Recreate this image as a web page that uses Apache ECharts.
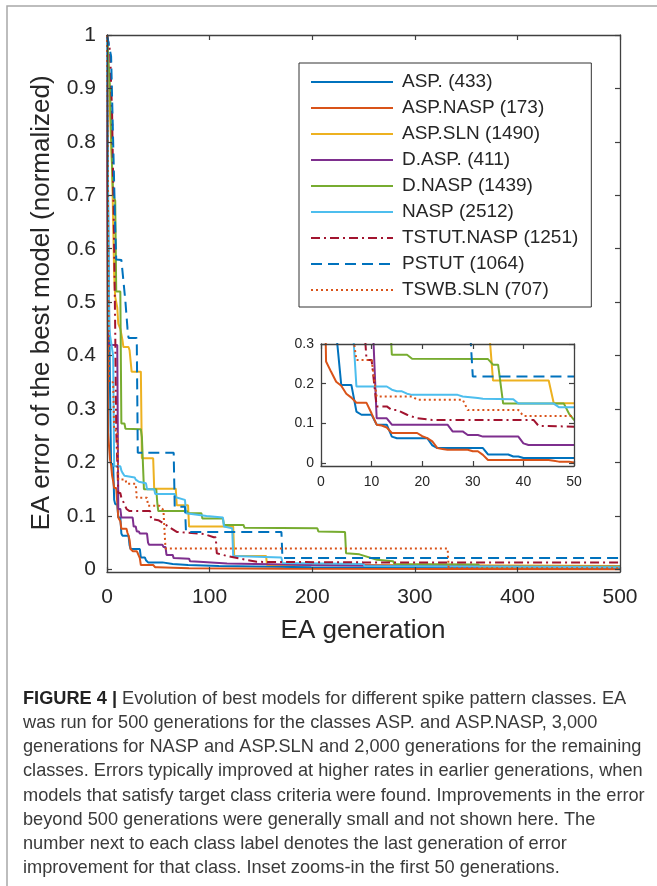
<!DOCTYPE html>
<html>
<head>
<meta charset="utf-8">
<script src="https://cdn.jsdelivr.net/npm/echarts@6/dist/echarts.min.js"></script>
<style>
html,body{margin:0;padding:0;background:#fff;}
#chart{width:657px;height:886px;}
</style>
</head>
<body>
<div id="chart"></div>
<script>
// ---- data (polyline vertices [generation, normalized error]) ----
const seriesNames = ['ASP. (433)','ASP.NASP (173)','ASP.SLN (1490)','D.ASP. (411)','D.NASP (1439)','NASP (2512)','TSTUT.NASP (1251)','PSTUT (1064)','TSWB.SLN (707)'];

const aspData = [[0,1],[1,0.7],[2,0.5],[3,0.33],[4,0.197],[6,0.197],[7,0.13],[8,0.122],[10,0.122],[11,0.097],[13,0.097],[14,0.067],[15,0.063],[21,0.063],[22,0.045],[23,0.038],[32,0.038],[33,0.022],[37,0.022],[38,0.017],[39,0.017],[40,0.013],[54,0.013],[55,0.01],[64,0.01],[65,0.008],[79,0.008],[80,0.006],[109,0.006],[110,0.004],[199,0.004],[200,0.003],[432,0.003],[433,0.002],[500,0.002]];

const aspNaspData = [[0,1],[1,0.256],[2,0.23],[3,0.205],[4,0.195],[5,0.175],[6,0.165],[7,0.152],[9,0.152],[10,0.125],[11,0.097],[12,0.095],[13,0.09],[14,0.076],[19,0.076],[20,0.068],[21,0.063],[22,0.055],[23,0.038],[24,0.036],[25,0.034],[29,0.034],[30,0.03],[31,0.03],[32,0.021],[33,0.008],[45,0.008],[46,0.006],[47,0.004],[49,0.004],[50,0.002],[80,0.002],[81,0.001],[172,0.001],[173,0],[500,0]];

const aspSlnData = [[0,1],[2,0.9],[4,0.8],[5,0.75],[6,0.65],[7,0.55],[8,0.51],[10,0.49],[11,0.46],[13,0.45],[14,0.44],[15,0.43],[16,0.416],[21,0.416],[22,0.41],[23,0.41],[24,0.37],[33,0.37],[34,0.208],[45,0.208],[46,0.151],[67,0.151],[68,0.12],[79,0.12],[80,0.08],[123,0.08],[124,0.025],[155,0.025],[156,0.008],[300,0.008],[301,0.006],[500,0.006]];

const dAspData = [[0,1],[1,0.42],[10,0.42],[11,0.113],[13,0.113],[14,0.097],[25,0.097],[26,0.08],[28,0.08],[29,0.071],[31,0.071],[32,0.067],[39,0.067],[40,0.05],[41,0.046],[54,0.046],[55,0.042],[57,0.042],[58,0.027],[64,0.027],[65,0.021],[80,0.02],[81,0.015],[90,0.014],[117,0.011],[200,0.008],[300,0.006],[411,0.005],[500,0.005]];

const dNaspData = [[0,1],[3,0.9],[5,0.75],[6,0.7],[8,0.69],[9,0.52],[13,0.52],[14,0.273],[17,0.273],[18,0.263],[33,0.262],[34,0.248],[35,0.248],[36,0.15],[48,0.15],[49,0.125],[50,0.109],[78,0.109],[79,0.105],[92,0.105],[93,0.095],[113,0.095],[114,0.083],[133,0.083],[134,0.078],[205,0.077],[206,0.071],[232,0.07],[233,0.03],[246,0.028],[263,0.018],[279,0.015],[280,0.01],[362,0.009],[363,0.005],[500,0.005]];

const naspData = [[0,1],[2,0.45],[6,0.4],[7,0.193],[13,0.193],[14,0.185],[15,0.181],[16,0.181],[17,0.175],[18,0.172],[27,0.172],[28,0.168],[31,0.164],[32,0.162],[38,0.161],[39,0.15],[46,0.15],[47,0.141],[66,0.141],[67,0.135],[76,0.13],[77,0.105],[97,0.1],[113,0.097],[114,0.08],[122,0.077],[123,0.025],[170,0.022],[171,0.012],[250,0.01],[251,0.006],[400,0.005],[500,0.004]];

const tstutNaspData = [[0,1],[3,0.97],[5,0.85],[7,0.6],[8,0.45],[9,0.26],[10,0.26],[11,0.143],[13,0.143],[14,0.134],[15,0.134],[17,0.122],[19,0.113],[22,0.109],[42,0.109],[43,0.094],[50,0.092],[55,0.086],[60,0.08],[68,0.07],[95,0.066],[104,0.06],[106,0.06],[107,0.03],[117,0.025],[130,0.02],[146,0.014],[250,0.013],[500,0.013]];

const pstutData = [[0,1],[3,0.97],[4,0.96],[5,0.88],[6,0.8],[7,0.72],[8,0.64],[9,0.58],[14,0.579],[16,0.54],[18,0.5],[20,0.45],[21,0.433],[29,0.433],[30,0.218],[65,0.218],[66,0.117],[76,0.117],[77,0.07],[170,0.07],[171,0.021],[500,0.021]];

const tswbSlnData = [[0,1],[2,0.35],[6,0.35],[7,0.26],[10,0.26],[11,0.168],[18,0.168],[19,0.16],[28,0.16],[29,0.134],[39,0.134],[40,0.119],[51,0.119],[52,0.117],[55,0.111],[56,0.111],[57,0.039],[332,0.039],[333,0.002],[500,0.002]];

const mainYTicks = [0,0.1,0.2,0.3,0.4,0.5,0.6,0.7,0.8,0.9,1];
const insetYTicks = [0,0.1,0.2,0.3];

const captionLines = [
  'was run for 500 generations for the classes ASP. and ASP.NASP, 3,000',
  'generations for NASP and ASP.SLN and 2,000 generations for the remaining',
  'classes. Errors typically improved at higher rates in earlier generations, when',
  'models that satisfy target class criteria were found. Improvements in the error',
  'beyond 500 generations were generally small and not shown here. The',
  'number next to each class label denotes the last generation of error',
  'improvement for that class. Inset zooms-in the first 50 generations.'
];

// ---- styling ----
const FONT = '"Liberation Sans", Arial, Helvetica, sans-serif';
const allData = [aspData, aspNaspData, aspSlnData, dAspData, dNaspData, naspData, tstutNaspData, pstutData, tswbSlnData];
const colors = ['#0072BD','#D95319','#EDB120','#7E2F8E','#77AC30','#4DBEEE','#A2142F','#0072BD','#D95319'];
const dashes = ['solid','solid','solid','solid','solid','solid',[9,4,2,4],[11,6],[2,3]];
const AX = '#404040';
const CAP_SIZE = 18.2;

function mkSeries(i, inset) {
  return {
    type: 'line',
    name: seriesNames[i],
    data: allData[i],
    xAxisIndex: inset ? 2 : 0,
    yAxisIndex: inset ? 2 : 0,
    symbol: 'none',
    showSymbol: false,
    clip: true,
    silent: true,
    animation: false,
    z: inset ? 7 : 2,
    itemStyle: {color: colors[i]},
    lineStyle: {color: colors[i], width: 2, type: dashes[i]}
  };
}
const series = [];
for (let i = 0; i < allData.length; i++) series.push(mkSeries(i, false));
for (let i = 0; i < allData.length; i++) series.push(mkSeries(i, true));

function xAx(grid, pos, min, max, interval, labelSize, showLabel, z) {
  return {
    type: 'value', gridIndex: grid, position: pos, min: min, max: max, interval: interval, z: z,
    axisLine: {show: true, onZero: false, lineStyle: {color: AX, width: 1.3}},
    axisTick: {show: true, inside: true, length: 5, lineStyle: {color: AX, width: 1.2}},
    axisLabel: {show: showLabel, fontSize: labelSize, color: '#262626', fontFamily: FONT, margin: grid === 0 ? 15 : 9},
    splitLine: {show: false}
  };
}
function yAx(grid, pos, min, max, ticks, labelSize, showLabel, z) {
  return {
    type: 'value', gridIndex: grid, position: pos, min: min, max: max, z: z,
    axisLine: {show: true, onZero: false, lineStyle: {color: AX, width: 1.3}},
    axisTick: {show: true, inside: true, length: 5, customValues: ticks, lineStyle: {color: AX, width: 1.2}},
    axisLabel: {show: showLabel, fontSize: labelSize, color: '#262626', fontFamily: FONT, margin: grid === 0 ? 11 : 7,
      customValues: ticks, formatter: v => String(+(+v).toFixed(2))},
    splitLine: {show: false}
  };
}

const graphics = [
  {type: 'rect', shape: {x: 7, y: 6, width: 720, height: 920}, style: {fill: null, stroke: '#a8a8a8', lineWidth: 1.5}, silent: true, z: 0},
  {type: 'text', x: 42, y: 303, rotation: Math.PI / 2,
    style: {text: 'EA error of the best model (normalized)', fontSize: 26, fontFamily: FONT, fill: '#262626', align: 'center', verticalAlign: 'middle'}},
  {type: 'text', x: 363, y: 631,
    style: {text: 'EA generation', fontSize: 26, fontFamily: FONT, fill: '#262626', align: 'center', verticalAlign: 'middle'}},
  {type: 'text', x: 23, y: 699,
    style: {text: '{b|FIGURE 4 |} Evolution of best models for different spike pattern classes. EA',
      fontSize: CAP_SIZE, fontFamily: FONT, fill: '#3a3a3a', verticalAlign: 'middle',
      rich: {b: {fontWeight: 'bold', fontSize: CAP_SIZE, fontFamily: FONT, fill: '#222'}}}}
];
captionLines.forEach((t, k) => {
  graphics.push({type: 'text', x: 23, y: 699 + 24.14 * (k + 1),
    style: {text: t, fontSize: CAP_SIZE, fontFamily: FONT, fill: '#3a3a3a', verticalAlign: 'middle'}});
});

const option = {
  backgroundColor: '#fff',
  animation: false,
  grid: [
    {left: 107, top: 35, width: 513, height: 537, show: false},
    {left: 321, top: 344, width: 253, height: 122, show: true, backgroundColor: '#fff', borderWidth: 0, z: 5}
  ],
  xAxis: [
    xAx(0, 'bottom', 0, 500, 100, 21, true, 3),
    xAx(0, 'top', 0, 500, 100, 21, false, 3),
    xAx(1, 'bottom', 0, 50, 10, 14, true, 8),
    xAx(1, 'top', 0, 50, 10, 14, false, 8)
  ],
  yAxis: [
    yAx(0, 'left', -0.005, 1, mainYTicks, 21, true, 3),
    yAx(0, 'right', -0.005, 1, mainYTicks, 21, false, 3),
    yAx(1, 'left', -0.007, 0.3, insetYTicks, 14, true, 8),
    yAx(1, 'right', -0.007, 0.3, insetYTicks, 14, false, 8)
  ],
  legend: {
    show: true, orient: 'vertical', left: 299, top: 63,
    data: seriesNames,
    selectedMode: false,
    itemWidth: 82, itemHeight: 2, itemGap: 6,
    padding: [9, 13, 7, 11],
    backgroundColor: '#fff', borderColor: '#333', borderWidth: 1,
    textStyle: {fontSize: 19, fontFamily: FONT, color: '#262626', lineHeight: 20, padding: [0, 0, 0, 4]},
    z: 6
  },
  graphic: graphics,
  series: series
};

const chart = echarts.init(document.getElementById('chart'), null, {renderer: 'canvas'});
chart.setOption(option);
</script>
</body>
</html>
